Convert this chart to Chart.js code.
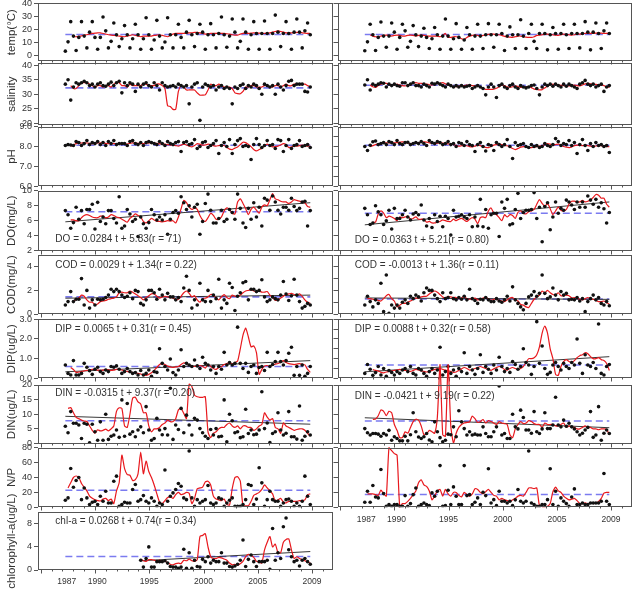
<!DOCTYPE html>
<html><head><meta charset="utf-8">
<script src="https://cdn.jsdelivr.net/npm/chart.js@4.4.1/dist/chart.umd.min.js"></script>
<style>
html,body{margin:0;padding:0;background:#fff;}
#wrap{position:relative;width:639px;height:590px;overflow:hidden;background:#fff;}
canvas{position:absolute;}
</style></head><body><div id="wrap"></div>
<script>
// ---------- time grid (quarterly samples 1987-2009) ----------
const T0 = 1987.27, DT = 0.248;
const times = Array.from({length: 92}, (_, i) => +(T0 + i * DT).toFixed(3));
const xLabelPos = [1987.4, 1990.2, 1995, 2000, 2005, 2010];
const xLabels = ['1987', '1990', '1995', '2000', '2005', '2009'];

// ---------- tick labels ----------
const tempTicks = [0, 10, 20, 30, 40];
const salTicks = [20, 25, 30, 35, 40];
const phTicks = [6.0, 6.5, 7.0, 7.5, 8.0, 8.5, 9.0];
const doTicks = [2, 4, 6, 8, 10];
const codTicks = [0, 1, 2, 3, 4, 5];
const dipTicks = [0, 0.5, 1.0, 1.5, 2.0, 2.5, 3.0];
const dinTicks = [0, 5, 10, 15, 20];
const npTicks = [0, 20, 40, 60, 80];
const chlTicks = [0, 2, 4, 6, 8, 10];

// ---------- temperature ----------
const tempDotsL = [3.5,10.6,26,15, 4,14,26,15, 6,18,26,14, 5,14,29.5,19, 6,11,25,16, 7,13,23,16, 6,13,24,16, 5,13,29,16, 5,12,27,15, 6,10.5,29,16, 6,16,24,14, 6,18,27,16, 7,17,24,18, 5,16,24.5,16, 6,17,29.5,16, 6.5,15,28,18, 6,11,28,18, 5,16,26,17, 5,17,26.5,17, 5,17,31,18, 7,17,26,17, 5,18,28,18, 6,19,25,16];
const tempRedL = [null,null,null,14.5,14.5,14.8,15.2,15.8, 16,16.5,17,17.2, 17.5,17.5,17,16.5, 16,15.8,15.5,15.2, 15,14.8,14.5,15, 15.5,16,15.5,15, 14.5,15,15,15, 15,15.5,15.8,16, 15.5,15,14.5,15.5, 16.5,17,17,17, 17,17,17.5,17.5, 17.8,17.8,17.5,17, 16.5,16.8,17,17, 17,17,17,17, 16.8,16.5,16,15.8, 15.8,16.5,17,17, 17,17.2,17.5,17.5, 17.2,17,17,17.2, 17.5,18,18.5,19, 18.5,18,17.5,17.5, 17.5,17.5,17.8,17.8, 17.5,17.2,17,17];
const tempDotsR = [3.8,10.6,24,16, 4,14,25.7,15, 6.5,15,25,18, 5,14,24,19, 6.5,11,23,16, 7,15,21,14, 5.5,13,21.5,16, 5,15,28,15, 5,13,24.5,14, 5,12,21.5,16, 5,15,24,15, 5.5,16,24.5,16, 6.5,16,24,17, 4,15,22,16, 5.5,16,27.5,15, 5.5,17,24,11, 5.5,17,24,17, 4.5,16,21.5,17, 5,17,24,16, 5.5,17,24,17, 6,17,26,18, 4.5,18,25,17, 5.5,19,25,17];
const tempRedR = [null,null,15.8,15,14.5,14.5,15,15.5, 15.8,15.5,15,15.5, 15.8,15.5,15,15, 15.5,15.8,15.5,15, 15.5,15.8,15.5,15, 15,15,15,15, 14.5,15.5,17,14, 14,14.5,14.5,14, 13,12.5,14,15, 15.5,16,15.5,15, 15.5,16,16.3,16.5, 16.5,16,16,15.5, 14.8,14.5,14.2,14, 14.5,15,15,14.5, 14.2,14,14,14.5, 15.5,15.8,16,16.2, 16.5,16.2,16,15.8, 15.5,16,16.5,16.2, 16,15.8,16,16.5, 16.5,16.8,17,17, 17,17,17.2,17.5, 17.2,17,17,17];

// ---------- salinity ----------
const salDotsL = [33.5,35,28,32.5, 34,33.5,34,34.5, 34,33,33.5,32.5, 33.5,34,33,32.8, 33.5,34.2,33,34, 34.5,30.5,34,33, 34,33.5,31,33.5, 32.5,33.5,34,33, 32.5,34,33,31.5, 34,33,32.5,32.8, 33,32.5,33.5,33, 32.5,33,26.7,32.5, 33.5,34,21,32.5, 33.5,33,32.5,33, 31.5,32.5,33,32, 32.5,32,26.7,32.5, 32,33,33.5,32, 33,32.5,33.5,33, 32,30,33.5,33, 32.5,33,30,33.5, 32.5,31.5,33,34.5, 34.8,33,33.5,33.5, 33.5,31,30.8,32.5];
const salRedL = [null,null,33,32, 32,33,34,34, 34,33.5,33,32.5, 33,33,32.5,33, 33,32.5,33.5,34, 34,33,33,32.5, 33.5,33,33,33, 33,33.5,33.5,33, 33,33,33.5,33.5, 33,32,26,25.8, 24.8,24.8,31,33, 32.5,31.5,31.5,31.5, 31.5,30.5,29.7,29.7, 29.8,31.5,33.5,33, 33,33.5,33,32.5, 32.5,32.5,32,30.5, 30.2,30.2,31,32.5, 32.5,33,33,32.5, 32.5,32.5,33,33, 32.5,32.5,33,33, 32.5,33,33.5,33, 33,33.5,33.5,33.5, 33.5,33.5,33,32.5];
const salDotsR = [33.2,35,31.5,33.5, 33,33.5,34,33.8, 32.5,33.5,33,33.5, 33,32.8,34,34, 33,33.5,34,33, 33,32.5,33.5,33, 32.5,33.8,33.5,34, 33.5,33,32.5,33.5, 33,32.5,33,32.5, 33,32.5,32.8,33, 32,32.5,33,32.5, 32,29.8,32.5,33.5, 32.5,28.9,33,33.5, 32.5,32,33,33.5, 32.5,32,33,32.5, 32.2,32.5,33,33.2, 32,29.8,32.5,33.5, 33,33.5,32.8,33.5, 33,32.5,33.5,32.8, 33.5,33,32.5,32, 33.5,34,34.8,33.5, 33,33.5,32.5,33, 33.5,31,32.5,33];
const salRedR = [null,null,33.2,32.6, 32.4,33,33.5,33.8, 33.8,33.5,33.2,33.3, 33.5,33.2,33,32.9, 33.2,33.5,33.8,34, 33.8,33.8,33.6,33.5, 33.3,33.2,33.5,33.8, 33.8,34,33.6,33.2, 33,32.7,32.6,32.8, 32.9,33,33.2,33.1, 33,32.9,32.9,32.5, 32,31.7,31.7,31.7, 31.8,32.1,32.6,33.2, 33,32.6,32.4,32.6, 32.9,32.7,32.4,32.5, 32.6,32.6,32.3,31.8, 31.7,31.5,31.6,32.2, 32.9,33.2,33.5,33.3, 33.2,33.1,33,32.9, 32.9,33,33.2,33, 32.9,33.2,33.6,33.8, 33.6,33.5,33.4,33.3, 33.2,33,32.6,32.4];

// ---------- pH ----------
const phDotsL = [8.05,8.1,8.08,8.05, 8.25,8.2,8.05,8.15, 8.3,8.1,8.2,8.15, 8.25,8.1,8.2,8.05, 8.25,8.15,8.3,8.1, 8.15,8.15,8.15,8.05, 8.25,8.3,8.15,8.1, 8.2,8.05,8.2,8.25, 8.2,8.15,8.1,8.25, 8.15,8.05,8.25,8.15, 8.1,8.2,8.25,7.75, 8.2,8.25,8.1,8.15, 8.35,7.9,8.0,8.2, 8.25,7.95,8.05,8.15, 8.3,7.65,8.05,8.2, 8.0,8.35,7.65,8.1, 8.3,8.4,8.0,8.05, 8.0,7.35,8.1,8.4, 8.1,7.95,8.05,8.3, 8.05,8.1,7.9,8.35, 8.3,7.75,8.05,8.35, 7.9,8.05,8.1,8.3, 8.0,8.05,8.1,7.95];
const phRedL = [null,null,8.02,8.08, 8.15,8.17,8.18,8.19, 8.18,8.16,8.15,8.16, 8.18,8.19,8.18,8.16, 8.15,8.14,8.15,8.15, 8.14,8.13,8.12,8.13, 8.16,8.19,8.18,8.16, 8.15,8.15,8.16,8.18, 8.19,8.18,8.16,8.14, 8.12,8.12,8.1,8.08, 8.07,8.05,8.02,8.08, 8.12,8.08,8.02,7.98, 8.05,8.15,8.12,8.07, 8.08,8.12,8.1,8.05, 8.02,8.05,8.07,8.05, 7.95,7.87,7.85,7.92, 7.98,8.1,8.22,8.2, 8.1,8.0,7.85,7.78, 7.85,7.92,8.05,8.12, 8.05,7.98,8.0,8.02, 8.08,8.15,8.1,7.95, 7.98,8.02,8.02,8.05, 8.07,8.05,8.02,8.02];
const phDotsR = [8.0,7.8,8.07,8.24, 8.28,8.1,8.15,8.2, 8.1,8.25,8.2,8.1, 8.3,8.15,8.1,8.2, 8.22,8.1,8.15,8.2, 8.15,8.25,8.15,8.05, 8.3,8.2,8.15,8.25, 8.2,8.1,8.15,8.25, 8.1,8.15,8.0,8.2, 8.15,8.05,8.25,8.1, 8.05,7.75,8.1,8.2, 8.0,7.78,8.1,8.05, 7.8,8.2,8.1,8.0, 8.1,8.35,8.0,7.4, 8.2,8.05,8.1,8.15, 8.0,7.95,8.1,8.0, 8.05,7.95,8.0,8.15, 8.05,8.0,8.1,8.4, 8.25,8.05,8.15,8.1, 8.3,8.05,8.2,7.65, 8.1,8.35,8.05,7.8, 8.15,8.0,8.2,8.05, 8.1,8.0,8.05,7.7];
const phRedR = [null,null,8.0,8.05, 8.1,8.13,8.16,8.18, 8.19,8.19,8.18,8.19, 8.2,8.22,8.24,8.22, 8.18,8.15,8.17,8.19, 8.2,8.22,8.24,8.22, 8.19,8.17,8.15,8.17, 8.19,8.18,8.16,8.14, 8.12,8.1,8.06,8.02, 8.04,8.06,8.04,8.0, 7.98,8.02,8.07,8.05, 8.0,7.96,7.95,8.0, 8.07,8.1,8.12,8.1, 8.06,8.04,7.98,7.9, 7.85,7.9,7.97,8.0, 7.98,7.95,7.95,7.97, 8.0,8.02,8.05,8.1, 8.15,8.12,8.08,8.1, 8.12,8.08,8.0,7.97, 7.95,7.98,8.05,8.07, 8.06,8.05,8.07,8.05, 8.02,8.0,8.03,8.05, 8.04,8.02,8.0,8.0];

// ---------- DO ----------
const doDotsL = [7.35,6.8,5.0,5.75, 7.8,6.2,7.35,5.6, 7.5,7.5,8.2,4.9, 8.45,5.9,6.5,5.6, 7.35,7.35,6.3,5.7, 9.2,5.0,5.3,7.5, 6.9,5.9,6.2,3.9, 6.5,5.6,5.0,5.75, 7.5,6.8,6.1,6.5, 6.1,6.8,4.2,6.2, 7.1,7.35,7.0,9.2, 8.4,7.5,8.0,6.5, 7.8,8.2,4.2,5.9, 8.3,9.55,7.4,5.7, 5.7,6.3,7.4,5.9, 6.2,7.5,7.1,6.2, 9.55,7.65,5.7,5.1, 7.65,6.2,8.4,6.5, 7.8,5.3,9.0,8.75, 7.4,9.3,8.5,7.4, 6.9,7.8,7.8,7.4, 9.0,7.9,7.35,7.65, 8.5,8.6,5.3,7.35];
const doRedL = [null,null,6.1,6.1, 6.0,6.0,6.4,6.7, 6.8,6.7,6.5,6.4, 6.4,6.6,6.6,6.4, 6.5,6.8,6.7,6.5, 6.4,6.2,6.0,5.8, 6.3,6.6,6.9,6.7, 6.5,5.9,5.7,6.0, 6.3,6.1,5.9,5.9, 5.85,5.9,6.0,5.95, 6.0,5.7,6.5,7.6, 8.7,8.4,7.8,7.5, 7.7,7.5,6.7,6.1, 5.9,6.4,7.0,6.7, 6.2,6.2,6.5,7.3, 7.7,7.5,7.0,6.9, 8.5,8.9,8.3,7.6, 6.8,7.5,7.8,7.4, 7.0,7.8,8.1,8.0, 8.8,9.6,8.9,8.8, 8.6,8.5,8.5,8.3, 8.5,8.8,8.7,8.6, 8.5,8.4,7.9,7.8];
const doDotsR = [7.65,6.8,5.5,5.7, 8.0,7.2,6.8,5.5, 6.0,7.4, 4.9,7.65,6.3,6.3, 6.8,7.4,6.5,6.1, 6.9,7.1,6.8,8.1, 6.1,5.3,6.3,5.1, 6.8,5.9,6.6,5.2, 6.6, 6.3,4.1,7.4,6.5, 6.6,6.8,6.5,6.3, 6.8,5.2,6.5,5.3, 8.85,5.2,7.5,5.0, 6.8, 7.0,7.0,3.9,8.5, 7.65,8.85,5.45,5.6, 7.5,9.65,6.3,7.1, 7.4,7.4,7.5,9.75, 6.3,7.8,3.2,7.9, 8.4,4.8,6.5,8.5, 7.0,7.65,7.4,8.75, 8.5,8.1,7.5,8.5, 7.8,8.5,7.8,9.3, 8.75,8.2,8.85,7.8, 8.4,7.6,5.7,7.1];
const doRedR = [null,null,null,5.8, 5.8,6.9,7.3,7.0, 6.4,6.6,6.5,6.3, 6.0,6.5,6.4,6.5, 6.6,6.2,6.3,6.5, 6.2,6.2,6.2,5.8, 5.9,5.7,5.7,5.8, 5.9,6.1,6.0,5.9, 5.9,6.2,6.0,6.2, 6.3,6.1,5.9,6.2, 6.4,6.2,5.6,6.4, 6.5,6.4,7.3,7.7, 7.0,6.8,6.4,6.0, 6.8,6.5,6.8,6.7, 6.3,7.1,7.3,7.0, 6.9,7.2,7.3,7.5, 8.2,8.8,8.3,7.9, 8.3,7.6,6.8,7.3, 7.8,7.4,7.3,7.5, 8.2,8.6,8.6,8.5, 8.5,8.7,8.5,8.6, 8.8,9.1,9.5,9.4, 9.0,9.0,8.2,7.8];

// ---------- COD ----------
const codDotsL = [0.76,1.05,1.9,1.05, 1.25,1.25,3.0,0.76, 2.0,0.5,1.2,0.76, 1.25,1.2,1.25,1.4, 1.6,2.1,1.9,2.1, 1.9,1.6,1.4,1.5, 1.8,1.3,2.0,1.9, 0.9,0.76,1.2,2.0, 2.0,1.8,1.25,2.1, 1.6,1.2,1.75,1.45, 1.45,1.2,1.4,1.05, 2.2,3.2,2.0,0.5, 1.2,0.76,2.6,1.2, 1.05,2.0,1.05,1.6, 1.3,2.95,0.5,1.2, 0.9,2.6,2.25,0.3, 1.5,1.8, 2.65,2.75,1.2,2.1, 2.1,1.9,2.0,2.9, 1.45,1.05,1.2,1.45, 1.3,1.2, 1.6,2.75,1.7,1.15, 1.55,2.95,1.6,1.05, 0.5,0.65,0.9,0.76];
const codRedL = [null,null,null,1.05, 1.25,1.35,1.6,1.5, 1.2,1.0,1.0,0.8, 0.85,1.05,1.1,1.15, 1.25,1.3,1.35,1.45, 1.8,1.85,1.8,1.8, 1.95,1.85,1.7,1.55, 1.4,1.2,1.4,1.55, 1.7,1.7,1.5,1.35, 1.45,1.5,1.45,1.4, 1.35,1.2,1.25,1.5, 1.8,1.95,1.75,1.45, 1.55,1.2,1.0,1.3, 1.35,1.45,1.65,1.6, 1.35,1.2,1.45,1.65, 1.4,1.3,1.6,1.5, 1.5,1.6,1.8,1.95, 2.0,2.05,1.95,1.9, 1.95,1.85,1.85,1.9, 1.6,1.4,1.15,1.2, 1.35,1.5,1.65,1.7, 1.75,1.65,1.6,1.7, 1.5,1.2,1.0,0.9];
const codDotsR = [0.76,1.5,1.05,0.6, 1.2,0.9,2.6,0.2, 3.3,0.05,0.76,0.5, 0.76,0.5,1.0,1.2, 0.9,1.5,1.3,1.6, 1.45,1.1,1.8,2.2, 2.0,2.0,1.6,1.3, 1.05,1.8,1.3,1.4, 1.8,1.3,1.2,1.4, 1.25,1.5,1.2,2.1, 1.3,1.15,0.9,1.25, 1.2,1.4,1.2,1.05, 1.05,1.3,1.1,1.0, 1.2,1.5,1.1,2.3, 1.2,0.9,0.6,0.35, 0.9,1.45,1.6,1.9, 1.5,1.75,3.3,1.75, 1.3,1.45,2.2,1.6, 1.2,1.9,1.6,1.75, 1.2,1.25,1.2,1.4, 1.1,1.3,0.2,1.05, 1.3,1.6,1.2,1.4, 0.9,0.76,1.05,0.7];
const codRedR = [null,1.3,1.3,1.25, 1.2,1.15,1.1,1.3, 1.55,1.65,1.3,1.1, 0.6,0.75,0.9,0.9, 1.0,1.1,1.25,1.35, 1.35,1.45,1.5,1.5, 1.7,1.85,1.95,1.85, 1.65,1.45,1.35,1.5, 1.45,1.4,1.4,1.3, 1.35,1.5,1.3,1.25, 1.3,1.35,1.2,1.25, 1.35,1.4,1.3,1.15, 1.25,1.25,1.15,1.1, 1.05,1.2,1.35,1.4, 1.2,1.1,0.8,0.75, 0.6,0.55,0.9,1.25, 1.45,1.6,1.95,1.8, 2.0,1.8,1.65,1.6, 1.8,1.55,1.55,1.6, 1.55,1.35,1.4,1.35, 1.25,1.2,1.3,1.4, 1.3,1.25,1.15,1.05, 1.05,1.1,0.95,0.85];

// ---------- DIP ----------
const dipDotsL = [0.68,0.25,0.17,0.9, 0.17,0.17,0.25,0.76, 0.56,0.39,0.2,0.46, 0.56,0.34,0.25,0.42, 0.34,0.6,0.56,0.63, 0.46,0.25,0.34,0.5, 0.34,0.25,0.29,0.17, 0.4,0.17,0.25,0.42, 0.1,0.34,0.3,1.5, 0.76,0.6,0.42,0.98, 0.29,0.17,0.42,1.45, 0.6,0.76,0.68,0.6, 0.93,0.63,0.5,1.07, 0.76,0.68,0.42,0.6, 0.25,0.6,0.46,1.32, 0.68,0.8,0.68,0.76, 2.6,0.76,0.5,0.76, 0.3,0.6,0.68,0.25, 0.55,0.6,0.4,1.32, 0.6,0.7,0.85,1.32, 0.85,0.68,0.9,1.27, 1.58,0.15,0.6,0.15, 0.68,0.1,0.25,0.6];
const dipRedL = [null,null,0.55,0.45, 0.3,0.32,0.35,0.38, 0.4,0.42,0.45,0.45, 0.42,0.4,0.42,0.45, 0.43,0.4,0.42,0.45, 0.45,0.42,0.38,0.35, 0.32,0.3,0.28,0.25, 0.22,0.18,0.15,0.2, 0.28,0.4,0.55,0.7, 0.75,0.7,0.62,0.58, 0.55,0.58,0.6,0.7, 0.78,0.75,0.68,0.62, 0.6,0.62,0.65,0.6, 0.52,0.7,0.6,0.5, 0.45,0.55,0.6,0.7, 0.75,0.8,0.72,0.8, 0.88,1.5,2.2,2.55, 2.1,1.6,1.65,1.3, 0.2,0.45,0.62,0.65, 0.6,0.68,0.72,0.75, 0.82,0.9,0.8,0.75, 0.72,0.7,0.72,0.75, 0.72,0.68,0.45,0.3];
const dipDotsR = [0.25,0.7,0.46,0.15, 0.29,0.6,0.17,0.5, 0.1,0.4,0.3,0.17, 0.34,0.25,0.42,0.5, 0.34,0.6,0.25,0.17, 0.5,0.42,0.25,0.1, 0.34,0.5,0.25,0.42, 1.58,0.17,0.34,0.6, 0.25,0.42,0.1,0.5, 0.34,1.3,0.25,0.6, 0.42,0.2,0.5,1.2, 0.3,0.6,0.46,0.25, 0.68,0.42,1.07,0.6, 0.34,0.5,0.3,0.85, 0.7,0.46,0.6,1.5, 0.8,0.68,0.2,0.6, 2.88,0.76,1.64,0.5, 0.2,0.3,0.68,0.8, 0.6,0.42,0.76,0.6, 0.5,0.8,0.68,2.0, 0.76,0.25,1.2,0.68, 0.6,0.8,0.5,2.76, 0.25,0.17,0.6,0.7];
const dipRedR = [null,null,null,0.45, 0.4,0.38,0.3,0.28, 0.32,0.35,0.38,0.4, 0.42,0.45,0.42,0.4, 0.38,0.35,0.4,0.45, 0.42,0.38,0.35,0.32, 0.35,0.4,0.45,0.48, 0.5,0.45,0.42,0.38, 0.35,0.3,0.32,0.4, 0.48,0.55,0.5,0.42, 0.45,0.5,0.55,0.6, 0.55,0.5,0.45,0.4, 0.48,0.55,0.6,0.55, 0.45,0.42,0.5,0.55, 0.5,0.45,0.5,0.6, 0.8,1.0,1.0,1.05, 1.2,1.6,2.3,2.66, 2.3,1.5,1.0,0.2, 0.15,0.6,0.85,0.95, 0.85,0.8,0.9,1.05, 1.15,1.2,1.3,1.25, 1.1,1.0,1.0,1.05, 0.95,0.9,0.75,0.4];

// ---------- DIN ----------
const dinDotsL = [5.9,3.7,10.9,6.9, 6.9,6.3,1.7,6.9, 6.6,0.2,6.6,4.0, 1.1,7.4,1.1,10.0, 1.4,2.5,2.9,4.6, 2.1,14.9,2.5,13.7, 3.2,4.0,2.3,4.6, 5.7,3.7,12.6,4.6, 1.1,1.7,8.6,4.6, 3.0,5.1,2.9,18.9, 1.4,6.3,4.8,12.0, 3.7,9.7,6.3,2.9, 8.6,8.0,5.1,3.7, 2.5,1.7,4.8,2.9, 5.1,2.3,2.5,14.9, 0.6,10.0,7.8,3.7, 4.0,2.0,2.3,11.7, 3.4,4.6,3.0,3.2, 4.6,17.7,5.1,7.0, 0.3,3.4,4.0,10.5, 4.6,2.9,3.5,10.9, 2.3,2.3,1.5,12.8, 1.1,2.5,4.0,2.9];
const dinRedL = [null,12.0,12.3,10.5, 8.9,8.5,8.0,7.7, 7.5,6.0,4.5,3.5, 4.7,4.3,4.5,4.9, 4.3,5.0,6.0,11.0, 12.2,12.0,6.0,5.5, 10.0,15.5,15.8,14.2, 13.5,10.5,10.5,6.0, 4.0,5.0,5.0,5.5, 6.5,7.0,8.0,7.5, 7.5,8.5,11.5,12.0, 10.3,8.5,20.3,19.5, 16.5,16.0,15.8,15.8, 16.0,4.0,2.0,3.5, 4.0,5.0,5.5,5.5, 6.5,7.0,6.0,5.5, 6.0,5.0,6.0,6.0, 5.5,5.5,4.5,5.0, 6.0,6.5,10.5,9.0, 8.0,8.5,5.5,5.0, 3.5,7.0,6.0,5.5, 5.0,4.5,4.8,5.0, 5.0,4.5,3.5,2.5];
const dinDotsR = [5.1,3.7,2.9,3.4, 3.4,3.2,2.5,3.4, 2.9,4.5,1.1,2.3, 1.7,0.9,0.9,2.5, 0.9,3.0,10.5,4.0, 2.2,1.7,2.3,3.4, 1.2,0.6,7.4,4.0, 2.0,0.6,1.1,3.2, 3.0,5.7,2.3,11.2, 7.4,5.1,2.9,4.0, 2.9,3.2,2.9,2.9, 5.7,3.4,2.3,2.3, 4.0,5.7,19.7,2.9, 3.4,1.7,1.7,10.0, 5.7,5.0,11.4,8.9, 4.6,4.6,3.5,10.9, 4.0,3.4,5.0,10.5, 5.1,5.1,6.3,15.8, 6.3,5.7,8.0,5.9, 6.9,5.7,5.0,4.0, 2.9,3.5,4.6,5.5, 10.9,2.1,2.9,12.6, 1.1,3.5,4.6,3.4];
const dinRedR = [null,null,null,8.2, 8.4,9.5,11.5,11.0, 9.5,11.0,10.5,6.5, 4.5,2.0,2.0,4.0, 3.5,5.5,7.5,8.3, 8.0,6.0,3.0,3.3, 4.5,4.0,3.5,9.0, 27,3.0,2.5,27, 6.0,0.2,3.5,5.5, 6.5,7.0,7.2,7.4, 9.4,8.5,7.2,7.5, 8.2,7.0,7.8,7.5, 7.0,6.5,7.5,7.0, 6.8,6.5,3.0,2.0, 5.0,6.5,7.5,6.8, 7.0,7.8,7.5,6.8, 6.5,6.5,5.5,7.0, 6.5,6.5,6.5,6.0, 6.0,6.5,7.0,5.5, 6.0,5.5,5.5,5.0, 5.0,5.5,6.0,5.5, 5.5,5.0,5.0,4.7, 5.0,5.0,4.8,3.0];

// ---------- N/P ----------
const npDotsL = [9.4,12.6,52,27, 36,40,10.3,26, 12.6,3.6,6.7,8.0, 3.6,14.8,8.1,21.6, 5.8,5.8,35,41.8, 1.3,3.6,6.7,5.8, 5.8,23.8,30.6,8.1, 10.3,15.7,8.1,5.8, 12.6,8.1,1.3,5.8, 3.6,50,8.1,14.8, 19.3,23.8,32,28.3, 12.6,10.3,75.5,12.6, 1.3,10.3,5.8,8.1, 10.3,29.2,5.8,3.6, 5.8,12.6,11.2,1.3, 5.8,9.4,12.6,1.3, 1.3,1.3,3.6,10.3, 30.6,29.2,3.6,11, 53,32.8,1.3,10.3, 21.6,10.3,8.1,8.1, 1.3,5.8,10.3,11.2, 8.1,1.3,5.8,1.3, 8.1,41.8,14.8,3.6];
const npRedL = [null,26,33,40, 42,40,32,27, 22,15,12,10, 9,8.5,11,12, 9,11,5,22, 33,70,52,44, 43,36,37,45, 74,45,62,48, 40,30,18,7, 5,9,13,14, 12,17,20,17, 18,20,19,5, 12,25,26,27, 34,35,30,15, 11,10,9,11, 4,3,25,40, 41,35,2,2, 2,8,16,18, 20,24,30,26, 22,18,8,10, 12,7,6,8, 8,8,8,9, 9,10,17,18];
const npDotsR = [6.7,21.6,6.7,29.2, 13.9,12.6,50.8,18.4, 1.3,3.6,1.3,3.6, 3.6,1.3,1.3,15.7, 1.3,5,17,26, 1.3,3.6,5.8,3.6, 2.2,19.3,14.8,21.6, 56,1.3,2.2,22.9, 3.6,27.4,14.8,3.6, 3.6,56,15.7,17, 3.6,6.7,12.6,3.6, 20.2,15.7,51.7,5.8, 10.3,2.2,21.6,8.1, 8.1,5.8,8.1,2.2, 10,23.8,8.1,5.8, 8.1,75.5,5.8,3.6, 1.3,1.3,3.6,3.6, 10.3,51.7,3.6,21.6, 1.3,12.6,8.1,5, 1.3,13.9,24.7,3.6, 3.6,5.8,3.6,3.6, 5.8,5.8,5.8,5.8, 8.1,45.4,8.1,3.6];
const npRedR = [null,18,18,18, 17,16,23,18, 15,80,76,72, 70,0.5,5,5, 8,12,17,22, 33,37,30,28, 22,10,15,22, 24,15,24,18, 15,20,20,16, 14,20,17,15, 18,25,24,20, 18,21,24,20, 16,15,10,12, 10,9,8,10, 12,15,16,15, 20,26,26,25, 26,2,1,1, 1.5,5,21,27, 22,20,15,12, 10,11,12,9, 5,5,6,5, 6,5,6,8, 12,19,20,20];

// ---------- chlorophyll-a ----------
const chlDotsL = [null,null,null,null, null,null,null,null, null,null,null,null, null,null,null,null, null,null,null,null, null,null,null,null, null,null,null,null, 1.7,0.5,2.0,4.0, 0.5,0.5,1.45,1.45, 1.45,1.6,1.2,0.6, 0.5,0.5,0.3,0.5, 3.6,0.3,3.0,0.3, 1.7,0.6,0.5,1.85, 1.45,2.3,1.2,1.7, 1.45,1.45,3.0,1.2, 1.2,0.6,0.5,0.7, 1.0,1.7,5.2,0.6, 1.85,2.6,1.45,0.6, 1.45,1.45,1.45,1.7, 0.1,7.2,1.7,3.0, 2.0,7.5,9.0,3.5, 2.3,1.45,1.7,0.7, 1.7,2.0,1.45,1.0];
const chlRedL = [null,null,null,null, null,null,null,null, null,null,null,null, null,null,null,null, null,null,null,null, null,null,null,null, null,null,null,null, 1.9,1.6,1.5,1.8, 1.8,1.7,1.6,1.7, 1.5,1.5,1.3,1.0, 0.9,1.1,1.2,1.1, 1.7,1.6,1.9,1.6, 1.5,1.8,5.8,6.0, 6.3,4.0,2.3,2.0, 2.0,2.2,2.1,1.9, 1.7,1.2,0.9,1.0, 0.8,1.1,1.5,2.3, 2.7,2.5,2.2,1.5, 1.4,1.2,3.5,4.8, 5.8,4.0,4.5,3.0, 3.0,4.8,5.3,5.4, 3.5,2.0,2.3,2.0, 1.8,1.6,1.4,1.2];

// ---------- long-term means (blue dashed) ----------
const meansL = [16.2, 32.2, 8.07, 7.2, 1.45, 0.6, 7.8, 22.8, 2.35];
const meansR = [16.2, 33.1, 8.07, 7.0, 1.27, 0.68, 7.7, 17.2];

// ---------- linear trends [start, end] ----------
const trendDO = [[5.85, 8.4], [5.45, 8.5]];
const trendCOD = [[1.34, 1.6], [1.36, 1.24]];
const trendDIP = [[0.33, 0.9], [0.33, 1.1]];
const trendDIN = [[9.3, 6.6], [8.8, 5.4]];
const trendChl = [1.6, 3.2];
const chlStart = 1994.2;

// ---------- regression equations ----------
const eqDO = ['DO = 0.0284 t + 5.83(r = 71)', 'DO = 0.0363 t + 5.21(r = 0.80)'];
const eqCOD = ['COD = 0.0029 t + 1.34(r = 0.22)', 'COD = -0.0013 t + 1.36(r = 0.11)'];
const eqDIP = ['DIP = 0.0065 t + 0.31(r = 0.45)', 'DIP = 0.0088 t + 0.32(r = 0.58)'];
const eqDIN = ['DIN = -0.0315 t + 9.37(r = 0.20)', 'DIN = -0.0421 t + 9.19(r = 0.22)'];
const eqChl = 'chl-a = 0.0268 t + 0.74(r = 0.34)';

// ================= layout / styling =================
const FONT = 'Arial, "Liberation Sans", Helvetica, sans-serif';
const TXT = '#333';
const ROWS = [[3.3,61],[63.3,125],[126.7,186.3],[190.7,250.7],[255,314],[319.3,378.3],[385,443.5],[447.7,507.3],[512.3,570]];
const X_MIN = 1984.75, X_MAX = 2011.95;
const EQX = 1986.35;
const yearTicks = [];
for (let y = 1985; y <= 2011; y++) yearTicks.push(y);

function pts(vals) {
  const out = [];
  vals.forEach((v, i) => { if (v !== null && v !== undefined && i < times.length) out.push({x: times[i], y: v}); });
  return out;
}

const wrap = document.getElementById('wrap');

function build(p, col) {
  const [top, bot] = ROWS[p.row];
  const xAxis = !!p.xAxis;
  const canvasLeft = col === 0 ? 0 : 333;
  const canvasW = col === 0 ? 335 : 301;
  const yW = col === 0 ? 38 : 4.5;
  const cTop = Math.floor(top) - 30;
  const padTop = top - cTop;
  const axisH = xAxis ? 20 : 0;
  const cH = Math.ceil(bot - cTop + axisH + (xAxis ? 4 : 30));
  const padBot = cH - axisH - (bot - cTop);
  const cv = document.createElement('canvas');
  cv.width = canvasW; cv.height = cH;
  cv.style.left = canvasLeft + 'px'; cv.style.top = cTop + 'px';
  cv.style.width = canvasW + 'px'; cv.style.height = cH + 'px';
  wrap.appendChild(cv);

  const first = times[0], last = times[times.length - 1];
  const datasets = [
    {data: pts(p.dots), showLine: false, pointRadius: 1.8, pointHoverRadius: 1.8, backgroundColor: '#111', borderWidth: 0, pointBorderWidth: 0},
    {data: pts(p.red), showLine: true, borderColor: '#e8191e', borderWidth: 1.2, pointRadius: 0, tension: 0.2, clip: false, borderJoinStyle: 'round', fill: false}
  ];
  if (p.trend) {
    datasets.push({data: [{x: p.trendStart || first, y: p.trend[0]}, {x: last, y: p.trend[1]}], showLine: true, borderColor: '#222', borderWidth: 0.9, pointRadius: 0});
  }
  datasets.push({data: [{x: first, y: p.mean}, {x: last, y: p.mean}], showLine: true, borderColor: '#7b7bf0', borderWidth: 1.6, borderDash: [7, 4], pointRadius: 0});

  const decor = {
    id: 'decor' + col + p.row,
    afterDraw(chart) {
      const {ctx, chartArea: a, scales: {x, y}} = chart;
      ctx.save();
      const L = Math.round(a.left) + 0.5, T = Math.round(a.top) + 0.5;
      const R = Math.round(a.right) - 0.5, B = Math.round(a.bottom) - 0.5;
      ctx.strokeStyle = '#555'; ctx.lineWidth = 1;
      ctx.strokeRect(L, T, R - L, B - T);
      ctx.beginPath();
      yearTicks.forEach(yr => {
        const px = Math.round(x.getPixelForValue(yr)) + 0.5;
        const len = yr % 5 === 0 ? 4 : 2;
        ctx.moveTo(px, B); ctx.lineTo(px, B + len);
      });
      ctx.stroke();
      if (p.eq) {
        ctx.fillStyle = TXT; ctx.font = '10px ' + FONT;
        ctx.textAlign = 'left'; ctx.textBaseline = 'middle';
        ctx.fillText(p.eq, x.getPixelForValue(EQX), y.getPixelForValue(p.eqY));
      }
      if (p.title) {
        ctx.translate(11.5, (a.top + a.bottom) / 2);
        ctx.rotate(-Math.PI / 2);
        ctx.fillStyle = TXT; ctx.font = '11.5px ' + FONT;
        ctx.textAlign = 'center'; ctx.textBaseline = 'middle';
        ctx.fillText(p.title, 0, 0);
      }
      ctx.restore();
    }
  };

  new Chart(cv, {
    type: 'scatter',
    data: {datasets},
    options: {
      responsive: false, animation: false, devicePixelRatio: 1, events: [],
      layout: {padding: {top: padTop, bottom: padBot, left: 0, right: 1}},
      plugins: {legend: {display: false}, tooltip: {enabled: false}},
      scales: {
        x: {
          type: 'linear', min: X_MIN, max: X_MAX, display: xAxis, position: 'bottom',
          grid: {display: false, drawTicks: false}, border: {display: false},
          afterBuildTicks: s => { s.ticks = xLabelPos.map(v => ({value: v})); },
          afterFit: s => { s.height = axisH; },
          ticks: {autoSkip: false, maxRotation: 0, minRotation: 0, padding: 7, color: TXT,
                  font: {size: 8.5, family: FONT}, callback: (v, i) => xLabels[i]}
        },
        y: {
          type: 'linear', min: p.min, max: p.max, position: 'left',
          afterBuildTicks: s => { s.ticks = p.ticks.map(v => ({value: v})); },
          afterFit: s => { s.width = yW; },
          grid: {display: true, drawOnChartArea: false, drawTicks: true, tickLength: 4, color: '#555', lineWidth: 1},
          border: {display: false},
          ticks: {display: col === 0, padding: 2, color: TXT, font: {size: 9, family: FONT},
                  callback: v => p.dec ? Number(v).toFixed(p.dec) : String(v)}
        }
      }
    },
    plugins: [decor]
  });
}

const panelsL = [
  {row: 0, min: -4, max: 40, ticks: tempTicks, dec: 0, title: 'temp(°C)', dots: tempDotsL, red: tempRedL, mean: meansL[0]},
  {row: 1, min: 19.4, max: 40.7, ticks: salTicks, dec: 0, title: 'salinity', dots: salDotsL, red: salRedL, mean: meansL[1]},
  {row: 2, min: 6, max: 9, ticks: phTicks, dec: 1, title: 'pH', dots: phDotsL, red: phRedL, mean: meansL[2]},
  {row: 3, min: 2, max: 10, ticks: doTicks, dec: 0, title: 'DO(mg/L)', dots: doDotsL, red: doRedL, mean: meansL[3], trend: trendDO[0], eq: eqDO[0], eqY: 3.56},
  {row: 4, min: 0, max: 5, ticks: codTicks, dec: 0, title: 'COD(mg/L)', dots: codDotsL, red: codRedL, mean: meansL[4], trend: trendCOD[0], eq: eqCOD[0], eqY: 4.15},
  {row: 5, min: 0, max: 3, ticks: dipTicks, dec: 1, title: 'DIP(ug/L)', dots: dipDotsL, red: dipRedL, mean: meansL[5], trend: trendDIP[0], eq: eqDIP[0], eqY: 2.49},
  {row: 6, min: 0, max: 20, ticks: dinTicks, dec: 0, title: 'DIN(ug/L)', dots: dinDotsL, red: dinRedL, mean: meansL[6], trend: trendDIN[0], eq: eqDIN[0], eqY: 17.3},
  {row: 7, min: 0, max: 80, ticks: npTicks, dec: 0, title: 'N/P', dots: npDotsL, red: npRedL, mean: meansL[7]},
  {row: 8, min: 0, max: 10, ticks: chlTicks, dec: 0, title: 'chlorophyll-a(ug/L)', dots: chlDotsL, red: chlRedL, mean: meansL[8], trend: trendChl, trendStart: chlStart, eq: eqChl, eqY: 8.5, xAxis: true}
];
const panelsR = [
  {row: 0, min: -4, max: 40, ticks: tempTicks, dec: 0, dots: tempDotsR, red: tempRedR, mean: meansR[0]},
  {row: 1, min: 19.4, max: 40.7, ticks: salTicks, dec: 0, dots: salDotsR, red: salRedR, mean: meansR[1]},
  {row: 2, min: 6, max: 9, ticks: phTicks, dec: 1, dots: phDotsR, red: phRedR, mean: meansR[2]},
  {row: 3, min: 2, max: 10, ticks: doTicks, dec: 0, dots: doDotsR, red: doRedR, mean: meansR[3], trend: trendDO[1], eq: eqDO[1], eqY: 3.33},
  {row: 4, min: 0, max: 5, ticks: codTicks, dec: 0, dots: codDotsR, red: codRedR, mean: meansR[4], trend: trendCOD[1], eq: eqCOD[1], eqY: 4.15},
  {row: 5, min: 0, max: 3, ticks: dipTicks, dec: 1, dots: dipDotsR, red: dipRedR, mean: meansR[5], trend: trendDIP[1], eq: eqDIP[1], eqY: 2.49},
  {row: 6, min: 0, max: 20, ticks: dinTicks, dec: 0, dots: dinDotsR, red: dinRedR, mean: meansR[6], trend: trendDIN[1], eq: eqDIN[1], eqY: 16.3},
  {row: 7, min: 0, max: 80, ticks: npTicks, dec: 0, dots: npDotsR, red: npRedR, mean: meansR[7], xAxis: true}
];

panelsL.forEach(p => build(p, 0));
panelsR.forEach(p => build(p, 1));
</script>
</body></html>
